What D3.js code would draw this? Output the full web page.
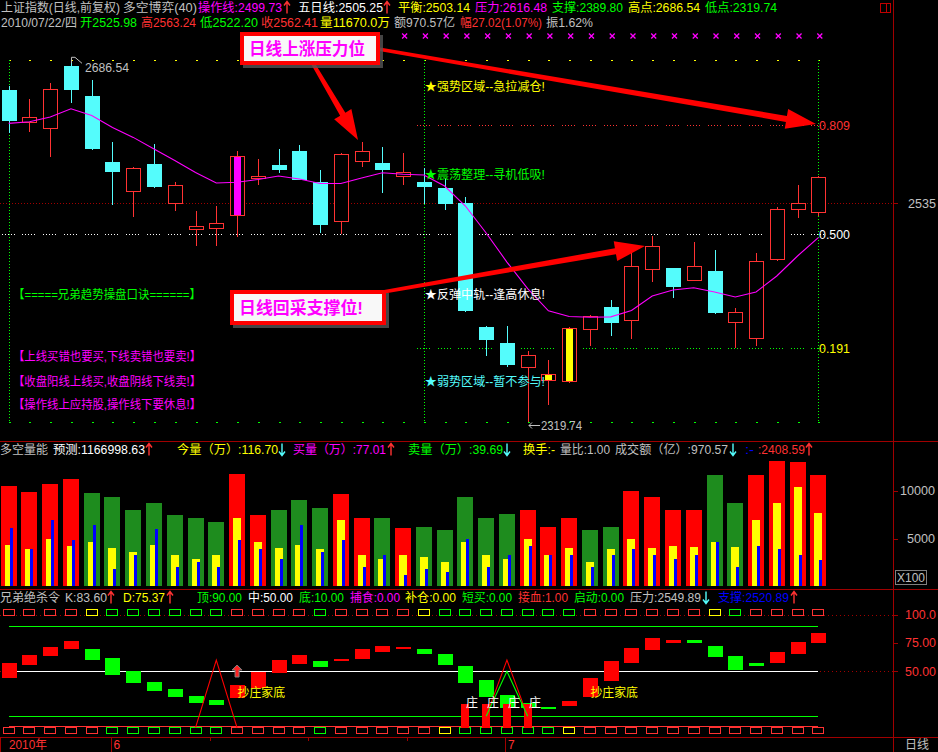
<!DOCTYPE html>
<html><head><meta charset="utf-8">
<script src="https://cdn.jsdelivr.net/npm/d3@7"></script>
<style>
body{margin:0;background:#000;overflow:hidden}
svg{display:block}
text{font-family:"Liberation Sans","Noto Sans CJK SC",sans-serif;}
</style></head>
<body><svg id="c" width="938" height="752"></svg>
<script>
// ---------------- DATA ----------------
const dates = ["05-25","05-26","05-27","05-28","05-31","06-01","06-02","06-03","06-04","06-07",
 "06-08","06-09","06-10","06-11","06-17","06-18","06-21","06-22","06-23","06-24",
 "06-25","06-28","06-29","06-30","07-01","07-02","07-05","07-06","07-07","07-08",
 "07-09","07-12","07-13","07-14","07-15","07-16","07-19","07-20","07-21","07-22"];
const open  = [2654.3,2620.3,2613.9,2680.6,2647.8,2577.8,2547.9,2575.7,2535.5,2508.2,
 2509.9,2523.1,2561.4,2574.6,2589.3,2556.9,2517.0,2579.1,2576.7,2563.4,
 2556.9,2550.7,2535.2,2410.6,2395.0,2371.5,2359.0,2358.6,2408.4,2430.3,
 2417.2,2468.4,2469.1,2456.8,2466.1,2415.2,2399.6,2477.9,2529.3,2525.98];
const high  = [2658.6,2644.6,2662.1,2686.54,2665.1,2598.8,2572.8,2596.7,2556.9,2526.9,
 2532.1,2589.3,2580.9,2591.4,2595.6,2569.4,2587.5,2598.8,2593.5,2587.2,
 2571.8,2560.7,2541.7,2411.6,2411.6,2387.2,2378.5,2410.6,2422.4,2437.2,
 2485.2,2501.7,2469.1,2495.3,2487.2,2429.3,2484.2,2530.8,2553.8,2563.24];
const low   = [2608.6,2609.7,2583.3,2640.6,2590.3,2533.1,2521.1,2550.7,2526.9,2491.3,
 2491.3,2500.7,2553.8,2566.6,2559.0,2504.2,2503.4,2572.8,2545.5,2553.8,
 2533.8,2528.0,2425.7,2382.7,2372.1,2319.74,2335.4,2356.7,2392.1,2401.8,
 2398.6,2455.4,2439.5,2456.8,2423.7,2390.2,2392.4,2476.5,2520.1,2522.20];
const close = [2621.4,2625.0,2655.0,2654.3,2591.4,2567.6,2571.2,2552.0,2553.5,2511.6,
 2514.4,2583.7,2563.1,2569.4,2559.0,2512.6,2585.8,2589.3,2569.4,2567.0,
 2552.0,2534.5,2426.6,2398.2,2374.0,2383.1,2364.8,2409.7,2421.1,2414.8,
 2470.8,2491.0,2450.4,2470.8,2424.7,2425.1,2475.8,2528.7,2534.9,2562.41];
const opLine = [2618.6,2620.3,2625.3,2634.2,2626.9,2614.1,2603.7,2591.4,2579.3,2566.8,
 2555.9,2556.7,2559.5,2563.1,2560.0,2555.3,2555.3,2561.0,2566.6,2565.0,
 2564.2,2552.7,2532.1,2504.5,2475.1,2448.6,2426.5,2420.9,2420.2,2420.6,
 2426.8,2441.2,2447.1,2449.4,2445.2,2440.2,2445.2,2461.1,2481.2,2499.73];
const highPt = 2686.54, lowPt = 2319.74;
const fibRatios = [0.809, 0.5, 0.191];
const fibLabels = ["0.809","0.500","0.191"];
const priceTicks = [2535];
const magentaSignal = ["06-09"];
const yellowSignal = ["07-05","07-06"];

// volume (x100 units)
const volume = [10530,9890,10745,11280,9790,9360,7980,8720,7450,7130,
 6700,11810,7450,7980,9040,8190,9680,7130,7130,6060,
 6170,5850,9360,7130,7550,7980,6170,7130,5850,6170,
 10000,9360,7980,7980,11700,8720,11700,13190,13080,11670];
const volSide = ["r","r","r","r","g","g","g","g","g","g",
 "g","r","r","g","g","g","r","r","g","r",
 "g","g","g","g","g","r","r","r","g","g",
 "r","r","r","r","g","g","r","r","r","r"];
const buyVol = [4360,3940,5000,4260,4680,4040,3620,4360,3300,2870,
 3300,7130,4680,4040,4360,3940,6910,3300,2870,3300,
 3090,2550,4680,3300,2870,5000,3300,4040,2550,3940,
 5000,4040,4260,4150,4680,4150,6910,8720,10430,7660];
const blueVol = [6060,3940,6910,4890,6380,1810,3300,5960,2020,2550,
 2020,4890,3940,2870,6380,3620,4890,2020,3300,1170,
 1810,1490,5000,2020,3300,4260,3300,3300,2020,3300,
 3940,3300,2870,3300,4680,2020,4260,3940,3300,2760];
const volTicks = [5000, 10000];

// KD indicator
const kVal = [57.4,64.5,71.6,76.9,60.0,46.7,39.6,32.5,27.2,22.1,
 20.1,37.8,49.6,60.0,64.5,53.8,60.9,69.8,72.4,72.0,
 65.3,55.6,39.6,27.4,17.7,17.4,17.8,23.6,44.0,59.1,
 70.7,79.5,77.8,75.4,62.9,51.4,55.0,67.1,76.0,83.60];
const dVal = [44.3,55.6,63.8,69.8,69.8,61.8,50.0,40.5,34.3,28.1,
 24.5,26.5,35.4,48.7,56.7,59.1,59.1,60.9,67.1,71.1,
 69.8,65.3,54.7,42.3,29.0,21.8,18.3,19.4,27.4,41.4,
 57.4,68.9,75.4,77.8,72.4,63.6,57.4,57.4,65.6,75.37];
const topFlag = ["r","r","r","r","y","g","g","g","g","g",
 "g","r","r","r","r","g","r","r","r","r",
 "y","g","g","g","g","g","g","g","r","r",
 "r","r","r","r","y","g","r","r","r","r"];
const botFlag = ["r","r","r","r","r","g","g","g","g","g",
 "g","r","r","r","r","g","r","r","r","r",
 "r","y","g","g","g","g","g","y","r","r",
 "r","r","r","r","r","r","r","r","r","r"];
const kdTicks = [50, 75, 100];
const kdLevels = {top:90, mid:50, bottom:10};
const zhuangDays = ["06-29","06-30","07-01","07-02"];
const zhuangValue = 21;
const triangles = [{day:"06-08", apex:60, base:0, color:"red"},
                   {day:"07-01", apex:60, base:10, color:"red"},
                   {day:"07-01", apex:50, base:10, color:"green"}];
const chaoDays = ["06-09","07-07"];
const monthTicks = [{day:"06-01",label:"6"},{day:"07-01",label:"7"}];

// ---------------- COLORS ----------------
const C = {red:"#FF3232", cyan:"#54FCFC", mag:"#FF00FF", yel:"#FFFF00", grn:"#00FF00",
  gray:"#C0C0C0", wht:"#FFFFFF", blue:"#0000FF", frame:"#A00000", volR:"#FF0000", volG:"#1E8C1E"};
const flagC = {r:C.red, g:C.grn, y:C.yel};

// ---------------- SCALES ----------------
const svg = d3.select("#c");
svg.append("rect").attr("width",938).attr("height",752).attr("fill","#000");
const AX = 893;
const x = d3.scalePoint().domain(dates).range([8.7, 818.3]);
const cw = 14;
const y = d3.scaleLog().domain([lowPt, highPt]).range([421.6, 60.3]);
const yv = d3.scaleLinear().domain([0,10000]).range([586,491]);
const yk = d3.scaleLinear().domain([0,100]).range([727.6,615]);
const fibPrice = r => lowPt + r*(highPt-lowPt);

const g = svg.append("g").attr("shape-rendering","crispEdges");
const px = v => Math.round(v)+0.5;

function txt(str, x0, x1, yc, color, size=12, weight="normal", parent=svg){
  const t = parent.append("text").attr("x",x0).attr("y",yc).attr("dy","0.36em")
   .attr("fill",color).attr("font-size",size).attr("font-weight",weight).text(str);
  if(x1!=null) t.attr("textLength",x1-x0).attr("lengthAdjust","spacingAndGlyphs");
  return t;
}
function arrowUD(xc, yc, up, color){
  const p = up ? `M${xc},${yc+6}V${yc-5}M${xc-3},${yc-2}L${xc},${yc-6}L${xc+3},${yc-2}`
               : `M${xc},${yc-6}V${yc+5}M${xc-3},${yc+2}L${xc},${yc+6}L${xc+3},${yc+2}`;
  svg.append("path").attr("d",p).attr("stroke",color).attr("stroke-width",1.4).attr("fill","none");
}

// ---------------- FRAME ----------------
[441, 589, 737].forEach(yy => g.append("line").attr("x1",0).attr("x2",938).attr("y1",yy+0.5).attr("y2",yy+0.5).attr("stroke",C.frame));
g.append("line").attr("x1",AX+0.5).attr("x2",AX+0.5).attr("y1",0).attr("y2",752).attr("stroke",C.frame);
g.append("line").attr("x1",0.5).attr("x2",0.5).attr("y1",737).attr("y2",752).attr("stroke",C.frame);
g.append("rect").attr("x",880.5).attr("y",3.5).attr("width",10).attr("height",9).attr("fill","none").attr("stroke","#C00000");
g.append("line").attr("x1",886.5).attr("x2",886.5).attr("y1",4).attr("y2",12).attr("stroke","#C00000");

// ---------------- HEADER ----------------
const h1 = [["上证指数(日线,前复权)",1,120,C.gray],["多空博弈(40)",123,197,C.gray],
 ["操作线:2499.73",198,282,C.mag],["五日线:2505.25",298,383,C.wht],["平衡:2503.14",398,470,C.yel],
 ["压力:2616.48",475,547,C.mag],["支撑:2389.80",552,623,C.grn],["高点:2686.54",628,700,C.yel],["低点:2319.74",705,777,C.grn]];
h1.forEach(d=>txt(d[0],d[1],d[2],7.8,d[3]));
arrowUD(287,7.5,true,C.red); arrowUD(387,7.5,true,C.red);
const h2 = [["2010/07/22/四",1,77,C.gray],["开2525.98",80,137,C.grn],["高2563.24",141,196,C.red],
 ["低2522.20",200,258,C.grn],["收2562.41",261,318,C.red],["量11670.0万",320,390,C.yel],
 ["额970.57亿",394,455,C.gray],["幅27.02(1.07%)",460,542,C.red],["振1.62%",546,593,C.gray]];
h2.forEach(d=>txt(d[0],d[1],d[2],22.5,d[3]));

const hv = [["多空量能",0,48,C.gray],["预测:1166998.63",53,145,C.wht],["今量（万）:116.70",177,278,C.yel],
 ["买量（万）:77.01",293,386,C.mag],["卖量（万）:39.69",408,503,C.grn],["换手:-",523,555,C.yel],
 ["量比:1.00",560,610,C.gray],["成交额（亿）:970.57",615,728,C.gray],[":-",745,754,C.blue],[":2408.59",758,805,C.red]];
hv.forEach(d=>txt(d[0],d[1],d[2],449.5,d[3]));
arrowUD(149,449.5,true,C.red); arrowUD(282,449.5,false,C.cyan); arrowUD(391,449.5,true,C.red);
arrowUD(507,449.5,false,C.cyan); arrowUD(733,449.5,false,C.cyan); arrowUD(809,449.5,true,C.red);

const hk = [["兄弟绝杀令",0,60,C.gray],["K:83.60",65,107,C.gray],["D:75.37",123,165,C.yel],
 ["顶:90.00",197,242,C.grn],["中:50.00",248,293,C.wht],["底:10.00",299,344,C.grn],["捕食:0.00",350,400,C.mag],
 ["补仓:0.00",405,456,C.yel],["短买:0.00",462,512,C.grn],["接血:1.00",518,568,C.red],["启动:0.00",574,624,C.grn],
 ["压力:2549.89",630,701,C.gray],["支撑:2520.89",718,789,C.blue]];
hk.forEach(d=>txt(d[0],d[1],d[2],597.5,d[3]));
arrowUD(111,597.5,true,C.red); arrowUD(170,597.5,true,C.red); arrowUD(706,597.5,false,C.cyan); arrowUD(794,597.5,true,C.red);

// ---------------- MAIN PANEL ----------------
const first = dates[0], mid = dates[20], last = dates[39];
priceTicks.forEach(p=>{
  g.append("line").attr("x1",0).attr("x2",AX).attr("y1",px(y(p))).attr("y2",px(y(p)))
   .attr("stroke","#A00000").attr("stroke-dasharray","1,2");
  g.append("line").attr("x1",AX).attr("x2",AX+5).attr("y1",px(y(p))).attr("y2",px(y(p))).attr("stroke",C.frame);
  txt(String(p),908,936,y(p),C.gray);
});
function segLine(val, color, fromIdx, toIdx){
  dates.slice(fromIdx,toIdx+1).forEach(d=>{
    g.append("line").attr("x1",x(d)-cw/2).attr("x2",x(d)+cw/2+1).attr("y1",px(val)).attr("y2",px(val))
     .attr("stroke",color).attr("stroke-dasharray","1,2");
  });
}
segLine(y(fibPrice(0.5)), "#FFFFFF", 0, 39);
segLine(y(fibPrice(0.809)), "#FF3232", 20, 39);
segLine(y(fibPrice(0.191)), "#00FF00", 20, 39);
dates.forEach(d=>{
  g.append("rect").attr("x",Math.round(x(d))).attr("y",Math.round(y(highPt))).attr("width",2).attr("height",1).attr("fill",C.yel);
  g.append("rect").attr("x",Math.round(x(d))).attr("y",Math.round(y(lowPt))).attr("width",2).attr("height",1).attr("fill",C.grn);
});
[first, mid, last].forEach(d=>{
  g.append("line").attr("x1",px(x(d))).attr("x2",px(x(d))).attr("y1",y(highPt)).attr("y2",y(lowPt))
   .attr("stroke",C.grn).attr("stroke-dasharray","1,2");
});
dates.slice(19).forEach(d=>{
  const cx = x(d)+1.5, cy=36;
  svg.append("path").attr("d",`M${cx-2.5},${cy-2.5}L${cx+2.5},${cy+2.5}M${cx+2.5},${cy-2.5}L${cx-2.5},${cy+2.5}`)
   .attr("stroke",C.mag).attr("stroke-width",1.3);
});
fibRatios.forEach((r,i)=>{
  txt(fibLabels[i], 819, 850, y(fibPrice(r)), [C.red,C.wht,C.yel][i]);
});

svg.append("path").datum(opLine).attr("fill","none").attr("stroke",C.mag).attr("stroke-width",1.1)
  .attr("d", d3.line().x((v,i)=>x(dates[i])).y(v=>y(v)));

dates.forEach((d,i)=>{
  const o=open[i], c=close[i], h=high[i], l=low[i];
  const cx = Math.round(x(d));
  const up = c>=o;
  const top = Math.round(y(Math.max(o,c))), bot = Math.round(y(Math.min(o,c)));
  const col = up ? C.red : C.cyan;
  if(up){
    g.append("line").attr("x1",cx+0.5).attr("x2",cx+0.5).attr("y1",y(h)).attr("y2",top).attr("stroke",col);
    g.append("line").attr("x1",cx+0.5).attr("x2",cx+0.5).attr("y1",bot).attr("y2",y(l)).attr("stroke",col);
    const bh = Math.max(bot-top,1);
    g.append("rect").attr("x",cx-7+0.5).attr("y",top+0.5).attr("width",cw).attr("height",bh)
      .attr("fill","#000").attr("stroke",col);
    let sc = magentaSignal.includes(d) ? C.mag : (yellowSignal.includes(d) ? C.yel : null);
    if(sc) g.append("rect").attr("x",cx-3).attr("y",top+1).attr("width",7).attr("height",bh-1).attr("fill",sc);
  } else {
    g.append("line").attr("x1",cx+0.5).attr("x2",cx+0.5).attr("y1",y(h)).attr("y2",y(l)).attr("stroke",col);
    g.append("rect").attr("x",cx-7).attr("y",top).attr("width",cw+1).attr("height",Math.max(bot-top,1)).attr("fill",col);
  }
});

{
  const hi = dates[high.indexOf(highPt)], lo = dates[low.indexOf(lowPt)];
  const hx = x(hi), hy=y(highPt);
  svg.append("path").attr("d",`M${hx+0.5},${hy+3}V${hy-3}H${hx+4}L${hx+11},${hy+3}`).attr("stroke",C.gray).attr("fill","none");
  txt(highPt.toFixed(2), hx+14, hx+58, hy+7, C.gray);
  const lx = Math.round(x(lo)), ly=Math.round(y(lowPt))+3.5;
  svg.append("path").attr("d",`M${lx+1},${ly}H${lx+12}M${lx+4},${ly-3}L${lx+1},${ly}L${lx+4},${ly+3}`).attr("stroke",C.gray).attr("fill","none");
  txt(lowPt.toFixed(2), lx+13, lx+54, ly, C.gray);
}

const zoneX = x(mid)+1;
[["★强势区域--急拉减仓!",87,C.yel],["★震荡整理--寻机低吸!",175,C.grn],["★反弹中轨--逢高休息!",295,C.wht],["★弱势区域--暂不参与!",381.5,C.cyan]]
 .forEach(d=>txt(d[0],zoneX,zoneX+120,d[1],d[2]));
[["【=====兄弟趋势操盘口诀======】",295,C.grn],["【上线买错也要买,下线卖错也要卖!】",357,C.mag],
 ["【收盘阳线上线买,收盘阴线下线卖!】",381.5,C.mag],["【操作线上应持股,操作线下要休息!】",405,C.mag]]
 .forEach(d=>txt(d[0],13,201,d[1],d[2]));

function bigArrow(x1,y1,x2,y2){
  const dx=x2-x1, dy=y2-y1, L=Math.hypot(dx,dy), ux=dx/L, uy=dy/L, nx=-uy, ny=ux;
  const hl=30, hw=10, sw=3;
  const bx=x2-ux*hl, by=y2-uy*hl;
  const pts=[[x1+nx*sw*0.6,y1+ny*sw*0.6],[bx+nx*sw,by+ny*sw],[bx+nx*hw,by+ny*hw],[x2,y2],
    [bx-nx*hw,by-ny*hw],[bx-nx*sw,by-ny*sw],[x1-nx*sw*0.6,y1-ny*sw*0.6]];
  svg.append("polygon").attr("points",pts.map(p=>p.join(",")).join(" ")).attr("fill","#FF0000");
}
function callout(x0,y0,w,h,str,tx0,tx1){
  svg.append("rect").attr("x",x0+3).attr("y",y0+3).attr("width",w).attr("height",h).attr("fill","#555").attr("opacity",0.8);
  svg.append("rect").attr("x",x0).attr("y",y0).attr("width",w).attr("height",h).attr("fill","#FF0000");
  svg.append("rect").attr("x",x0+4).attr("y",y0+4).attr("width",w-8).attr("height",h-8).attr("fill","#F8F8F8");
  txt(str,tx0,tx1,y0+h/2,C.mag,17,"bold");
}
bigArrow(312,62,358,140);
bigArrow(378,49,816,124);
bigArrow(383,292,645,246);
callout(240,32,140,33,"日线上涨压力位",249,365);
callout(230,290,156,35,"日线回采支撑位!",239,363);

// ---------------- VOLUME PANEL ----------------
volTicks.forEach(v=>{
  g.append("line").attr("x1",AX).attr("x2",AX+5).attr("y1",px(yv(v))).attr("y2",px(yv(v))).attr("stroke",C.frame);
  txt(String(v), v>=10000?900:907, 935, yv(v), C.gray);
});
g.append("rect").attr("x",895.5).attr("y",570.5).attr("width",31).attr("height",14).attr("fill","none").attr("stroke","#808080");
txt("X100",897,925,577.5,C.gray);
dates.forEach((d,i)=>{
  const cx = Math.round(x(d));
  g.append("rect").attr("x",cx-8).attr("y",Math.round(yv(volume[i]))).attr("width",16).attr("height",yv(0)-Math.round(yv(volume[i])))
    .attr("fill", volSide[i]==="r"?C.volR:C.volG);
  g.append("rect").attr("x",cx-4).attr("y",Math.round(yv(buyVol[i]))).attr("width",8).attr("height",yv(0)-Math.round(yv(buyVol[i]))).attr("fill",C.yel);
  g.append("rect").attr("x",cx+1).attr("y",Math.round(yv(blueVol[i]))).attr("width",3).attr("height",yv(0)-Math.round(yv(blueVol[i]))).attr("fill","#0000FF");
});

// ---------------- KD PANEL ----------------
[100,50].forEach(v=>g.append("line").attr("x1",0).attr("x2",AX).attr("y1",px(yk(v))).attr("y2",px(yk(v))).attr("stroke","#A00000").attr("stroke-dasharray","1,3"));
kdTicks.forEach(v=>{
  g.append("line").attr("x1",AX).attr("x2",AX+5).attr("y1",px(yk(v))).attr("y2",px(yk(v))).attr("stroke",C.frame);
  txt(v===100?"100.0":v.toFixed(2), 905, 936, yk(v), C.red);
});
[[kdLevels.top,C.grn],[kdLevels.bottom,C.grn],[kdLevels.mid,C.wht]].forEach(([v,c])=>{
  g.append("line").attr("x1",x(first)).attr("x2",x(last)).attr("y1",px(yk(v))).attr("y2",px(yk(v))).attr("stroke",c);
});
g.append("line").attr("x1",x(first)).attr("x2",x(last)).attr("y1",px(yk(1))).attr("y2",px(yk(1))).attr("stroke",C.red);

dates.forEach((d,i)=>{
  const cx = Math.round(x(d));
  const k=kVal[i], dd=dVal[i];
  const t=Math.round(yk(Math.max(k,dd))), b=Math.round(yk(Math.min(k,dd)));
  g.append("rect").attr("x",cx-7).attr("y",t).attr("width",15).attr("height",Math.max(b-t,2)).attr("fill", k>=dd?"#FF0000":C.grn);
  g.append("rect").attr("x",cx-5.5).attr("y",609.5).attr("width",11).attr("height",6).attr("fill","#000").attr("stroke",flagC[topFlag[i]]);
  g.append("rect").attr("x",cx-5.5).attr("y",727.5).attr("width",11).attr("height",6).attr("fill","#000").attr("stroke",flagC[botFlag[i]]);
});
const step = x.step();
triangles.forEach(t=>{
  const cx=x(t.day);
  svg.append("path").attr("d",`M${cx-step},${yk(t.base)}L${cx},${yk(t.apex)}L${cx+step},${yk(t.base)}`)
    .attr("fill","none").attr("stroke",t.color==="red"?"#FF0000":C.grn).attr("stroke-width",1.1);
});
zhuangDays.forEach(d=>{
  const cx=Math.round(x(d));
  g.append("rect").attr("x",cx-4).attr("y",yk(zhuangValue)).attr("width",8).attr("height",yk(0)-yk(zhuangValue)).attr("fill","#FF0000");
  txt("庄",cx+1,null,703,C.wht);
});
chaoDays.forEach(d=>txt("抄庄家底",x(d)+0.5,x(d)+48,692.5,C.yel));
{
  const cx=x(chaoDays[0]);
  svg.append("path").attr("d",`M${cx},${665}L${cx+5},${670}H${cx+2}V${677}H${cx-2}V${670}H${cx-5}Z`).attr("fill","#FF2020").attr("stroke","#808080");
}

// ---------------- DATE AXIS ----------------
txt("2010年",9,47,745,C.red);
const mx = monthTicks.map(m=>x(m.day)-1.5);
monthTicks.forEach((m,i)=>{
  g.append("line").attr("x1",px(mx[i])).attr("x2",px(mx[i])).attr("y1",737).attr("y2",752).attr("stroke",C.frame);
  txt(m.label,mx[i]+2.5,null,745,C.red);
});
for(let q=1;q<4;q++){
  const xx = mx[0]+(mx[1]-mx[0])*q/4;
  g.append("line").attr("x1",px(xx)).attr("x2",px(xx)).attr("y1",737).attr("y2",741).attr("stroke",C.frame);
}
txt("日线",905,929,745,C.gray);
</script></body></html>
